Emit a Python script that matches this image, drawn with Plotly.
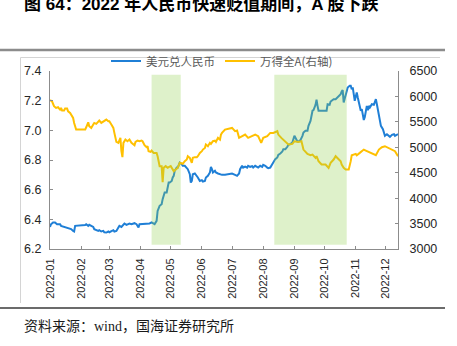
import plotly.graph_objects as go

# ---------------- data ----------------
fx_dates = [
    "2022-01-01", "2022-01-02", "2022-01-04", "2022-01-06", "2022-01-08", "2022-01-11", "2022-01-12",
    "2022-01-15", "2022-01-17", "2022-01-19", "2022-01-22", "2022-01-24", "2022-01-25", "2022-01-26",
    "2022-01-28", "2022-01-31", "2022-02-03", "2022-02-05", "2022-02-06", "2022-02-08", "2022-02-09",
    "2022-02-11", "2022-02-13", "2022-02-14", "2022-02-16", "2022-02-18", "2022-02-19", "2022-02-21",
    "2022-02-23", "2022-02-24", "2022-02-26", "2022-02-28", "2022-03-01", "2022-03-03", "2022-03-05",
    "2022-03-06", "2022-03-08", "2022-03-10", "2022-03-11", "2022-03-13", "2022-03-15", "2022-03-16",
    "2022-03-18", "2022-03-20", "2022-03-21", "2022-03-23", "2022-03-25", "2022-03-26", "2022-03-28",
    "2022-03-30", "2022-03-31", "2022-04-01", "2022-04-03", "2022-04-05", "2022-04-07", "2022-04-08",
    "2022-04-10", "2022-04-12", "2022-04-13", "2022-04-15", "2022-04-17", "2022-04-18", "2022-04-20",
    "2022-04-22", "2022-04-23", "2022-04-24", "2022-04-25", "2022-04-27", "2022-04-28", "2022-04-29",
    "2022-04-30", "2022-05-02", "2022-05-03", "2022-05-04", "2022-05-05", "2022-05-07", "2022-05-08",
    "2022-05-09", "2022-05-10", "2022-05-12", "2022-05-13", "2022-05-15", "2022-05-17", "2022-05-18",
    "2022-05-20", "2022-05-21", "2022-05-22", "2022-05-23", "2022-05-25", "2022-05-27", "2022-05-28",
    "2022-05-30", "2022-06-01", "2022-06-02", "2022-06-04", "2022-06-05", "2022-06-07", "2022-06-09",
    "2022-06-10", "2022-06-11", "2022-06-12", "2022-06-14", "2022-06-15", "2022-06-17", "2022-06-19",
    "2022-06-20", "2022-06-21", "2022-06-24", "2022-06-28", "2022-07-01", "2022-07-04", "2022-07-06",
    "2022-07-08", "2022-07-09", "2022-07-11", "2022-07-12", "2022-07-14", "2022-07-16", "2022-07-17",
    "2022-07-19", "2022-07-21", "2022-07-22", "2022-07-24", "2022-07-26", "2022-07-27", "2022-07-29",
    "2022-07-31", "2022-08-01", "2022-08-03", "2022-08-05", "2022-08-06", "2022-08-08", "2022-08-10",
    "2022-08-11", "2022-08-13", "2022-08-15", "2022-08-16", "2022-08-18", "2022-08-20", "2022-08-21",
    "2022-08-23", "2022-08-25", "2022-08-26", "2022-08-28", "2022-08-30", "2022-09-01", "2022-09-02",
    "2022-09-04", "2022-09-05", "2022-09-07", "2022-09-09", "2022-09-10", "2022-09-12", "2022-09-14",
    "2022-09-15", "2022-09-17", "2022-09-19", "2022-09-20", "2022-09-22", "2022-09-23", "2022-09-24",
    "2022-09-25", "2022-09-26", "2022-09-28", "2022-10-02", "2022-10-03", "2022-10-04", "2022-10-06",
    "2022-10-07", "2022-10-08", "2022-10-10", "2022-10-12", "2022-10-13", "2022-10-15", "2022-10-17",
    "2022-10-18", "2022-10-19", "2022-10-20", "2022-10-22", "2022-10-23", "2022-10-24", "2022-10-26",
    "2022-10-27", "2022-10-28", "2022-10-29", "2022-10-31", "2022-11-01", "2022-11-02", "2022-11-03",
    "2022-11-05", "2022-11-06", "2022-11-07", "2022-11-09", "2022-11-10", "2022-11-11", "2022-11-12",
    "2022-11-13", "2022-11-14", "2022-11-15", "2022-11-17", "2022-11-19", "2022-11-20", "2022-11-21",
    "2022-11-22", "2022-11-23", "2022-11-24", "2022-11-25", "2022-11-26", "2022-11-28", "2022-11-29",
    "2022-11-30", "2022-12-02", "2022-12-04", "2022-12-05", "2022-12-07", "2022-12-09", "2022-12-10",
    "2022-12-12", "2022-12-13",
]
usdcny = [
    6.349, 6.367, 6.379, 6.379, 6.367, 6.367, 6.356,
    6.349, 6.345, 6.340, 6.334, 6.322, 6.318, 6.356,
    6.356, 6.356, 6.356, 6.361, 6.367, 6.356, 6.363,
    6.356, 6.349, 6.334, 6.327, 6.322, 6.327, 6.318,
    6.322, 6.313, 6.311, 6.318, 6.313, 6.322, 6.327,
    6.318, 6.322, 6.345, 6.356, 6.349, 6.363, 6.372,
    6.363, 6.367, 6.372, 6.367, 6.372, 6.374, 6.367,
    6.345, 6.367, 6.367, 6.367, 6.372, 6.367, 6.367,
    6.372, 6.379, 6.374, 6.367, 6.390, 6.457, 6.491,
    6.502, 6.536, 6.558, 6.581, 6.581, 6.615, 6.648,
    6.648, 6.659, 6.682, 6.693, 6.727, 6.749, 6.749,
    6.772, 6.783, 6.772, 6.761, 6.761, 6.749, 6.738,
    6.704, 6.648, 6.659, 6.704, 6.709, 6.693, 6.682,
    6.659, 6.664, 6.655, 6.659, 6.682, 6.693, 6.716,
    6.754, 6.738, 6.716, 6.727, 6.716, 6.709, 6.704,
    6.700, 6.700, 6.700, 6.704, 6.709, 6.700, 6.693,
    6.709, 6.738, 6.761, 6.749, 6.756, 6.749, 6.761,
    6.754, 6.758, 6.749, 6.761, 6.754, 6.749, 6.761,
    6.754, 6.767, 6.761, 6.749, 6.745, 6.749, 6.772,
    6.783, 6.806, 6.817, 6.835, 6.844, 6.857, 6.873,
    6.873, 6.889, 6.902, 6.907, 6.918, 6.963, 6.952,
    6.925, 6.925, 6.934, 6.963, 6.985, 6.997, 6.997,
    7.030, 7.064, 7.132, 7.136, 7.172, 7.206, 7.165,
    7.132, 7.132, 7.132, 7.132, 7.132, 7.176, 7.172,
    7.194, 7.199, 7.210, 7.210, 7.217, 7.233, 7.244,
    7.262, 7.271, 7.188, 7.244, 7.262, 7.289, 7.300,
    7.300, 7.277, 7.289, 7.199, 7.244, 7.255, 7.221,
    7.165, 7.132, 7.143, 7.070, 7.090, 7.143, 7.165,
    7.136, 7.165, 7.154, 7.176, 7.172, 7.199, 7.210,
    7.176, 7.132, 7.086, 7.064, 7.030, 7.008, 6.974,
    6.963, 6.974, 6.963, 6.956, 6.970, 6.974, 6.963,
    6.974, 6.974,
]

wind_dates = [
    "2022-01-01", "2022-01-03", "2022-01-05", "2022-01-07", "2022-01-09", "2022-01-11", "2022-01-12",
    "2022-01-13", "2022-01-15", "2022-01-16", "2022-01-18", "2022-01-19", "2022-01-21", "2022-01-22",
    "2022-01-24", "2022-01-25", "2022-01-26", "2022-01-27", "2022-02-01", "2022-02-05", "2022-02-06",
    "2022-02-08", "2022-02-09", "2022-02-11", "2022-02-13", "2022-02-14", "2022-02-16", "2022-02-18",
    "2022-02-19", "2022-02-21", "2022-02-23", "2022-02-24", "2022-02-26", "2022-02-28", "2022-03-01",
    "2022-03-03", "2022-03-05", "2022-03-06", "2022-03-07", "2022-03-08", "2022-03-10", "2022-03-11",
    "2022-03-12", "2022-03-13", "2022-03-14", "2022-03-15", "2022-03-16", "2022-03-17", "2022-03-19",
    "2022-03-21", "2022-03-23", "2022-03-25", "2022-03-26", "2022-03-27", "2022-03-29", "2022-03-31",
    "2022-04-02", "2022-04-03", "2022-04-05", "2022-04-07", "2022-04-08", "2022-04-09", "2022-04-11",
    "2022-04-12", "2022-04-14", "2022-04-17", "2022-04-18", "2022-04-20", "2022-04-22", "2022-04-23",
    "2022-04-24", "2022-04-26", "2022-04-28", "2022-04-29", "2022-05-01", "2022-05-02", "2022-05-04",
    "2022-05-06", "2022-05-08", "2022-05-10", "2022-05-12", "2022-05-13", "2022-05-15", "2022-05-17",
    "2022-05-18", "2022-05-20", "2022-05-22", "2022-05-23", "2022-05-25", "2022-05-27", "2022-05-28",
    "2022-05-30", "2022-06-01", "2022-06-02", "2022-06-04", "2022-06-05", "2022-06-07", "2022-06-09",
    "2022-06-10", "2022-06-12", "2022-06-14", "2022-06-15", "2022-06-17", "2022-06-19", "2022-06-20",
    "2022-06-21", "2022-06-24", "2022-06-28", "2022-07-01", "2022-07-04", "2022-07-06", "2022-07-08",
    "2022-07-11", "2022-07-14", "2022-07-17", "2022-07-21", "2022-07-24", "2022-07-27", "2022-07-30",
    "2022-08-01", "2022-08-05", "2022-08-08", "2022-08-11", "2022-08-15", "2022-08-16", "2022-08-19",
    "2022-08-21", "2022-08-23", "2022-08-26", "2022-08-30", "2022-09-01", "2022-09-05", "2022-09-08",
    "2022-09-10", "2022-09-14", "2022-09-17", "2022-09-19", "2022-09-22", "2022-09-23", "2022-09-25",
    "2022-09-28", "2022-10-02", "2022-10-05", "2022-10-07", "2022-10-10", "2022-10-12", "2022-10-14",
    "2022-10-17", "2022-10-18", "2022-10-20", "2022-10-22", "2022-10-25", "2022-10-27", "2022-10-28",
    "2022-11-01", "2022-11-02", "2022-11-05", "2022-11-09", "2022-11-11", "2022-11-14", "2022-11-17",
    "2022-11-21", "2022-11-24", "2022-11-27", "2022-11-30", "2022-12-04", "2022-12-07", "2022-12-10",
    "2022-12-13",
]
wind_a = [
    5925, 5905, 5807, 5774, 5787, 5741, 5774,
    5721, 5721, 5761, 5761, 5708, 5676, 5643,
    5577, 5479, 5381, 5348, 5348, 5348, 5394,
    5492, 5414, 5381, 5447, 5479, 5460, 5512,
    5525, 5479, 5512, 5512, 5545, 5512, 5512,
    5447, 5381, 5283, 5185, 5106, 5087, 5152,
    5185, 4923, 4806, 5087, 5120, 5152, 5120,
    5152, 5087, 5054, 5041, 5106, 5132, 5120,
    5132, 5120, 5041, 5002, 5021, 4923, 4910,
    4936, 4890, 4890, 4825, 4629, 4629, 4315,
    4596, 4629, 4596, 4609, 4629, 4596, 4531,
    4563, 4596, 4694, 4681, 4675, 4727, 4759,
    4825, 4792, 4694, 4792, 4806, 4806, 4825,
    4890, 4923, 4955, 4988, 5054, 5021, 5087,
    5067, 5120, 5132, 5106, 5185, 5152, 5250,
    5283, 5348, 5360, 5381, 5316, 5330, 5185,
    5217, 5250, 5185, 5217, 5250, 5217, 5087,
    5185, 5217, 5283, 5283, 5316, 5250, 5185,
    5152, 5119, 5054, 5067, 5119, 5106, 5119,
    4955, 4871, 4844, 4857, 4792, 4825, 4727,
    4661, 4661, 4596, 4694, 4759, 4825, 4792,
    4727, 4661, 4596, 4563, 4563, 4727, 4844,
    4871, 4844, 4890, 4955, 4936, 4910, 4871,
    4844, 4955, 5002, 5021, 4988, 4955, 4923,
    4825,
]

# periods of rapid RMB depreciation (highlighted bands)
depreciation_periods = [("2022-04-12", "2022-05-11"), ("2022-08-12", "2022-10-23")]

month_ticks = ["2022-%02d-01" % m for m in range(1, 13)]
left_ticks = [6.2, 6.4, 6.6, 6.8, 7.0, 7.2, 7.4]
right_ticks = [3000, 3500, 4000, 4500, 5000, 5500, 6000, 6500]

# ---------------- geometry helpers ----------------
W, H = 457, 346
L, R, T, B = 50, 59, 71, 97
PW, PH = W - L - R, H - T - B


def px_x(x):
    return (x - L) / PW


def px_y(y):
    return (H - B - y) / PH


AXIS_COLOR = "#8C8C8C"
TICK_FONT = dict(family="Liberation Sans, Arial, sans-serif", size=12.5, color="#262626")

fig = go.Figure()
fig.add_trace(go.Scatter(
    x=fx_dates, y=usdcny, name="美元兑人民币", mode="lines",
    line=dict(color="#1F7FD6", width=2), yaxis="y",
))
fig.add_trace(go.Scatter(
    x=wind_dates, y=wind_a, name="万得全A(右轴)", mode="lines",
    line=dict(color="#FFC000", width=2), yaxis="y2",
))

shapes = []
for start, end in depreciation_periods:
    shapes.append(dict(
        type="rect", xref="x", yref="y", x0=start, x1=end, y0=6.229, y1=7.375,
        fillcolor="rgba(146,208,80,0.30)", line=dict(width=0), layer="above",
    ))

# page rules and chart frame
shapes += [
    dict(type="line", xref="paper", yref="paper", x0=px_x(0), x1=px_x(445),
         y0=px_y(50), y1=px_y(50), line=dict(color="#8C8C8C", width=2.5)),
    dict(type="line", xref="paper", yref="paper", x0=px_x(20.5), x1=px_x(440),
         y0=px_y(57.5), y1=px_y(57.5), line=dict(color="#D4D4D4", width=1)),
    dict(type="line", xref="paper", yref="paper", x0=px_x(20.5), x1=px_x(20.5),
         y0=px_y(57.5), y1=px_y(303), line=dict(color="#D4D4D4", width=1)),
    dict(type="line", xref="paper", yref="paper", x0=px_x(0), x1=px_x(445),
         y0=px_y(308), y1=px_y(308), line=dict(color="#3A3A3A", width=1.5)),
]

annotations = [
    dict(xref="paper", yref="paper", x=px_x(22), y=px_y(4.5), xanchor="left", yanchor="middle",
         text="<b>图 64：2022 年人民币快速贬值期间，A 股下跌</b>", showarrow=False,
         font=dict(family="Liberation Sans, Noto Sans CJK SC", size=17, color="#000000")),
    dict(xref="paper", yref="paper", x=px_x(22), y=px_y(326), xanchor="left", yanchor="middle",
         text="资料来源：wind，国海证券研究所", showarrow=False,
         font=dict(family="Liberation Serif, Noto Sans CJK SC", size=14, color="#1A1A1A")),
]

fig.update_layout(
    width=W, height=H,
    margin=dict(l=L, r=R, t=T, b=B, pad=0),
    paper_bgcolor="white", plot_bgcolor="white",
    shapes=shapes, annotations=annotations,
    showlegend=True,
    legend=dict(
        orientation="h", x=px_x(106), y=px_y(61), xanchor="left", yanchor="middle",
        font=dict(family="Noto Sans CJK SC", size=11.5, color="#595959"),
        bgcolor="rgba(0,0,0,0)", itemwidth=30,
    ),
    xaxis=dict(
        type="date", range=["2022-01-01", "2022-12-13"],
        tickvals=month_ticks, tickformat="%Y-%m", tickangle=-90,
        ticks="inside", ticklen=3, tickcolor=AXIS_COLOR, ticklabelstandoff=4,
        showline=True, linecolor=AXIS_COLOR, linewidth=1,
        showgrid=False, zeroline=False,
        tickfont=dict(family="Liberation Sans, Arial, sans-serif", size=11, color="#262626"),
    ),
    yaxis=dict(
        range=[6.2, 7.4], tickvals=left_ticks, tickformat=".1f",
        ticks="inside", ticklen=3, tickcolor=AXIS_COLOR, ticklabelstandoff=5,
        showline=True, linecolor=AXIS_COLOR, linewidth=1,
        showgrid=False, zeroline=False, tickfont=TICK_FONT,
    ),
    yaxis2=dict(
        range=[3000, 6500], tickvals=right_ticks, tickformat="d",
        overlaying="y", side="right",
        ticks="inside", ticklen=3, tickcolor=AXIS_COLOR, ticklabelstandoff=8,
        showline=True, linecolor=AXIS_COLOR, linewidth=1,
        showgrid=False, zeroline=False, tickfont=TICK_FONT,
    ),
)

fig.write_html("out.html")
